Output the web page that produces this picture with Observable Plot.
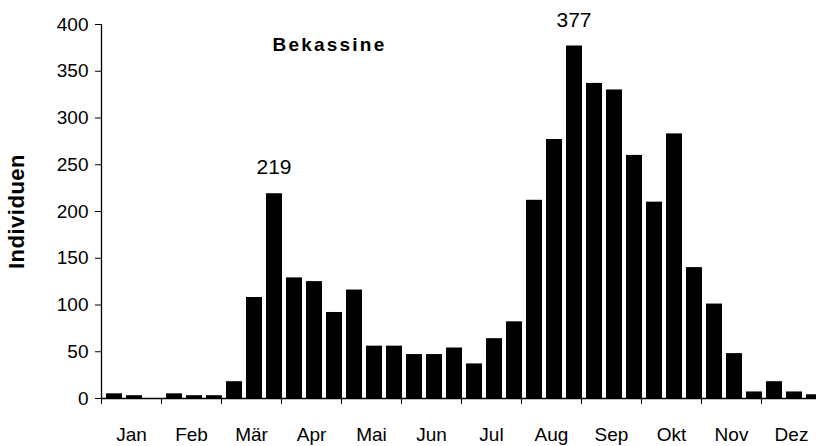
<!DOCTYPE html>
<html><head><meta charset="utf-8">
<script src="https://cdn.jsdelivr.net/npm/d3@7"></script>
<script src="https://cdn.jsdelivr.net/npm/@observablehq/plot@0.6"></script>
<style>html,body{margin:0;padding:0;overflow:hidden;background:#fff}</style>
</head><body><div id="chart"></div>
<script>
const months = ["Jan","Feb","Mär","Apr","Mai","Jun","Jul","Aug","Sep","Okt","Nov","Dez"];
// three counts per month
const counts = [5,3,0, 5,3,3, 18,108,219, 129,125,92, 116,56,56, 47,47,54, 37,64,82, 212,277,377, 337,330,260, 210,283,140, 101,48,7, 18,7,4];
const yTicks = [0,50,100,150,200,250,300,350,400];
const labelledValues = [219, 377];
const title = "Bekassine";
const yLabel = "Individuen";

const perMonth = counts.length / months.length;
const data = counts.map((v, i) => ({slot: i, value: v}));
const boundaries = d3.range(0, counts.length + 1, perMonth);
const centers = months.map((m, i) => i * perMonth + perMonth / 2);
const peaks = data.filter(d => labelledValues.includes(d.value));

const chart = Plot.plot({
  width: 816,
  height: 446,
  marginLeft: 101,
  marginRight: -5,
  marginTop: 24,
  marginBottom: 48,
  style: {fontFamily: "'Liberation Sans', Arial, sans-serif", fontSize: "19px", color: "#000", background: "#fff"},
  x: {type: "linear", domain: [0, counts.length]},
  y: {domain: [0, 400]},
  marks: [
    Plot.rect(data, {x1: "slot", x2: d => d.slot + 1, y1: 0, y2: "value", fill: "#000", insetLeft: 5, insetRight: -1}),
    Plot.ruleY([0], {stroke: "#000", strokeWidth: 1.3}),
    Plot.ruleX([0], {stroke: "#000", strokeWidth: 1.3}),
    Plot.axisY({ticks: yTicks, tickSize: 6, tickPadding: 7, label: null, stroke: "#000", fill: "#000", fontSize: 19}),
    Plot.axisX({ticks: boundaries, tickSize: 6, tickFormat: () => "", label: null, stroke: "#000"}),
    Plot.axisX({ticks: centers, tickSize: 0, tickPadding: 29, tickFormat: (d) => months[Math.floor(d / perMonth)], label: null, fill: "#000", fontSize: 19}),
    Plot.text(peaks, {x: d => d.slot + 0.5, y: "value", text: d => String(d.value), dx: 2.5, dy: -19.5, lineAnchor: "bottom", fontSize: 21, fill: "#000"}),
    Plot.text([title], {frameAnchor: "top-left", dx: 228, dy: 26.5, textAnchor: "middle", lineAnchor: "bottom", fontWeight: "bold", fontSize: 19, fill: "#000"}),
    Plot.text([yLabel], {frameAnchor: "left", dx: -85, rotate: -90, textAnchor: "middle", lineAnchor: "middle", fontWeight: "bold", fontSize: 22, fill: "#000"})
  ]
});
d3.select(chart).selectAll("text").filter(function() { return this.textContent === title; }).attr("letter-spacing", "2.2px");
d3.select(chart).selectAll("text").filter(function() { return this.textContent === yLabel; }).attr("letter-spacing", "0.5px");
document.getElementById("chart").appendChild(chart);
</script>
</body></html>
